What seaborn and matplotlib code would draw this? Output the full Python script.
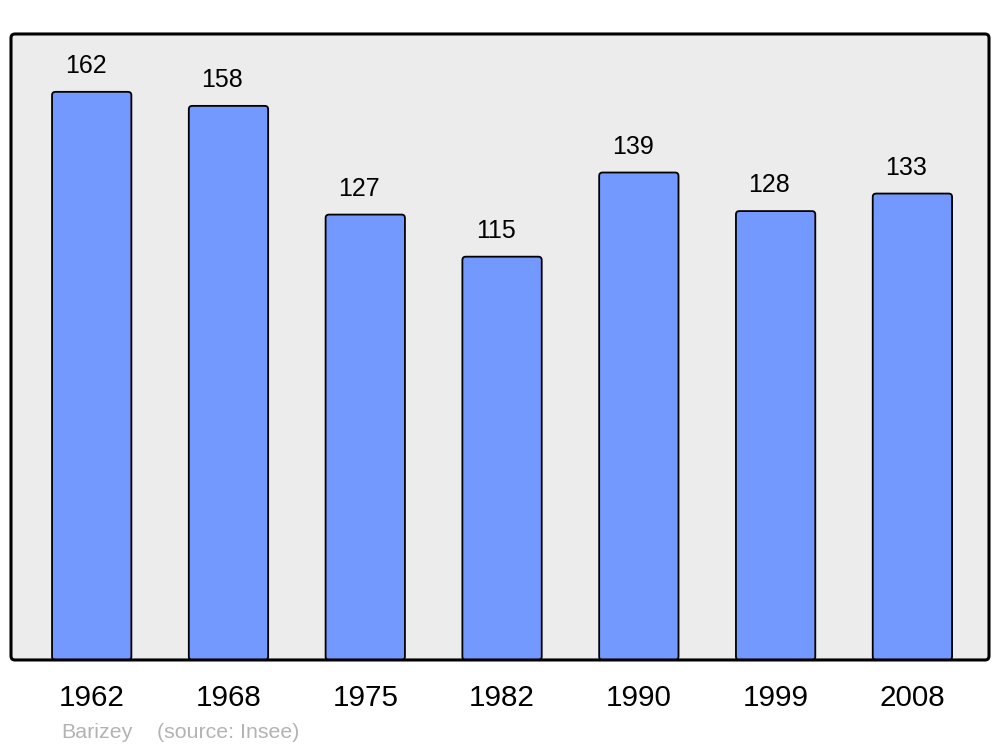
import matplotlib
matplotlib.use("Agg")
import matplotlib.pyplot as plt
from matplotlib.patches import FancyBboxPatch
import seaborn as sns
import pandas as pd

years = ["1962", "1968", "1975", "1982", "1990", "1999", "2008"]
population = [162, 158, 127, 115, 139, 128, 133]
commune = "Barizey"
source = "(source: Insee)"

sns.set_theme(style="white")
plt.rcParams["font.family"] = ["Liberation Sans", "DejaVu Sans"]

df = pd.DataFrame({"year": years, "pop": population})

fig = plt.figure(figsize=(10, 7.47), dpi=100)
ax = fig.add_axes([0.011, 0.1165, 0.978, 0.838])
ax.set_zorder(1)
sns.barplot(data=df, x="year", y="pop", ax=ax, color="#7399ff",
            saturation=1, width=0.58, edgecolor="black", linewidth=1.3)

# replace bars with slightly rounded ones of identical geometry
for p in list(ax.patches):
    x, y, w, h = p.get_x(), p.get_y(), p.get_width(), p.get_height()
    p.set_visible(False)
    fb = FancyBboxPatch((x, y), w, h,
                        boxstyle="round,pad=0,rounding_size=0.025",
                        mutation_aspect=39, facecolor="#7399ff",
                        edgecolor="black", linewidth=1.3, zorder=2)
    ax.add_patch(fb)

for i, v in enumerate(population):
    ax.annotate(str(v), (i, v), xytext=(-4.5, 13.5), textcoords="offset points",
                ha="center", va="baseline", fontsize=18, color="black")

ax.set_xlim(-0.59, 6.56)
ax.set_ylim(0, 178.5)
ax.set_facecolor("none")
ax.patch.set_visible(False)
ax.set_xlabel("")
ax.set_ylabel("")
ax.set_yticks([])
ax.tick_params(axis="x", length=0, pad=17, labelsize=21.3, labelcolor="black")
for s in ax.spines.values():
    s.set_visible(False)

# rounded axes frame
frame = FancyBboxPatch((0.011, 0.1165), 0.978, 0.838,
                       boxstyle="round,pad=0,rounding_size=0.004",
                       mutation_aspect=1000 / 747,
                       transform=fig.transFigure, facecolor="#ececec",
                       edgecolor="none", zorder=-1)
fig.add_artist(frame)
border = FancyBboxPatch((0.011, 0.1165), 0.978, 0.838,
                        boxstyle="round,pad=0,rounding_size=0.004",
                        mutation_aspect=1000 / 747,
                        transform=fig.transFigure, facecolor="none",
                        edgecolor="black", linewidth=2.2, zorder=5)
fig.add_artist(border)

fig.text(0.061, 0.012, commune, fontsize=15.4, color="#b3b3b3", va="baseline")
fig.text(0.157, 0.012, source, fontsize=15.4, color="#b3b3b3", va="baseline")

fig.savefig("out.png", dpi=100, facecolor="white")
